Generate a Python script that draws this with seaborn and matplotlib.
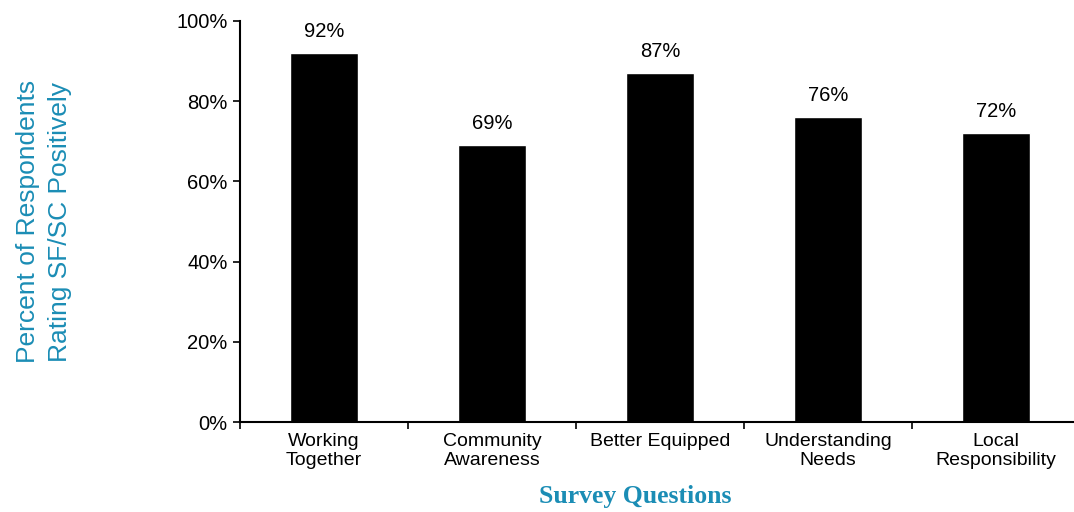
import matplotlib
matplotlib.use("Agg")
import matplotlib.pyplot as plt
import seaborn as sns
import pandas as pd
import numpy as np

# Survey data
questions = ['Working\nTogether', 'Community\nAwareness', 'Better Equipped',
             'Understanding\nNeeds', 'Local\nResponsibility']
positive = [92, 69, 87, 76, 72]
ytick_values = [0, 20, 40, 60, 80, 100]
ytick_labels = ['0%', '20%', '40%', '60%', '80%', '100%']

df = pd.DataFrame({'Question': questions, 'Percent': positive})

sns.set_style("white")
plt.rcParams['font.family'] = ['Liberation Sans', 'DejaVu Sans']

teal = '#1b8db5'

fig = plt.figure(figsize=(10.74, 5.12), dpi=100)
ax = fig.add_axes([240 / 1074, 90 / 512, 840 / 1074, 401 / 512])

sns.barplot(data=df, x='Question', y='Percent', color='black',
            width=0.405, saturation=1, ax=ax)

for i, v in enumerate(positive):
    ax.annotate(f'{v}%', (i, v), xytext=(0, 9), textcoords='offset points',
                ha='center', va='bottom', fontsize=14.5, color='black')

ax.set_xlim(-0.5, 4.5)
ax.set_ylim(0, 100)
ax.set_yticks(ytick_values)
ax.set_yticklabels(ytick_labels, fontsize=14.5)

# category labels centred, tick marks between categories
ax.set_xticks(range(len(questions)))
ax.set_xticklabels(questions, fontsize=14, linespacing=1.15)
ax.set_xticks(np.arange(-0.5, len(questions), 1), minor=True)
ax.tick_params(axis='x', which='major', length=0, pad=8, labelcolor='black')
ax.tick_params(axis='x', which='minor', length=5, width=1.2, direction='out',
               bottom=True, color='black')
ax.tick_params(axis='y', length=5, width=1.2, direction='out', left=True,
               color='black', labelcolor='black', pad=4)

for side in ['top', 'right']:
    ax.spines[side].set_visible(False)
for side in ['left', 'bottom']:
    ax.spines[side].set_color('black')
    ax.spines[side].set_linewidth(1.5)

ax.set_ylabel('Percent of Respondents\nRating SF/SC Positively', fontsize=19,
              color=teal, labelpad=75, linespacing=1.4)
ax.set_xlabel('')
fig.text(635 / 1074, 15 / 512, 'Survey Questions', ha='center', va='center',
         fontsize=18.5, fontweight='bold', color=teal, family='Liberation Serif')

fig.savefig('out.png', dpi=100)
